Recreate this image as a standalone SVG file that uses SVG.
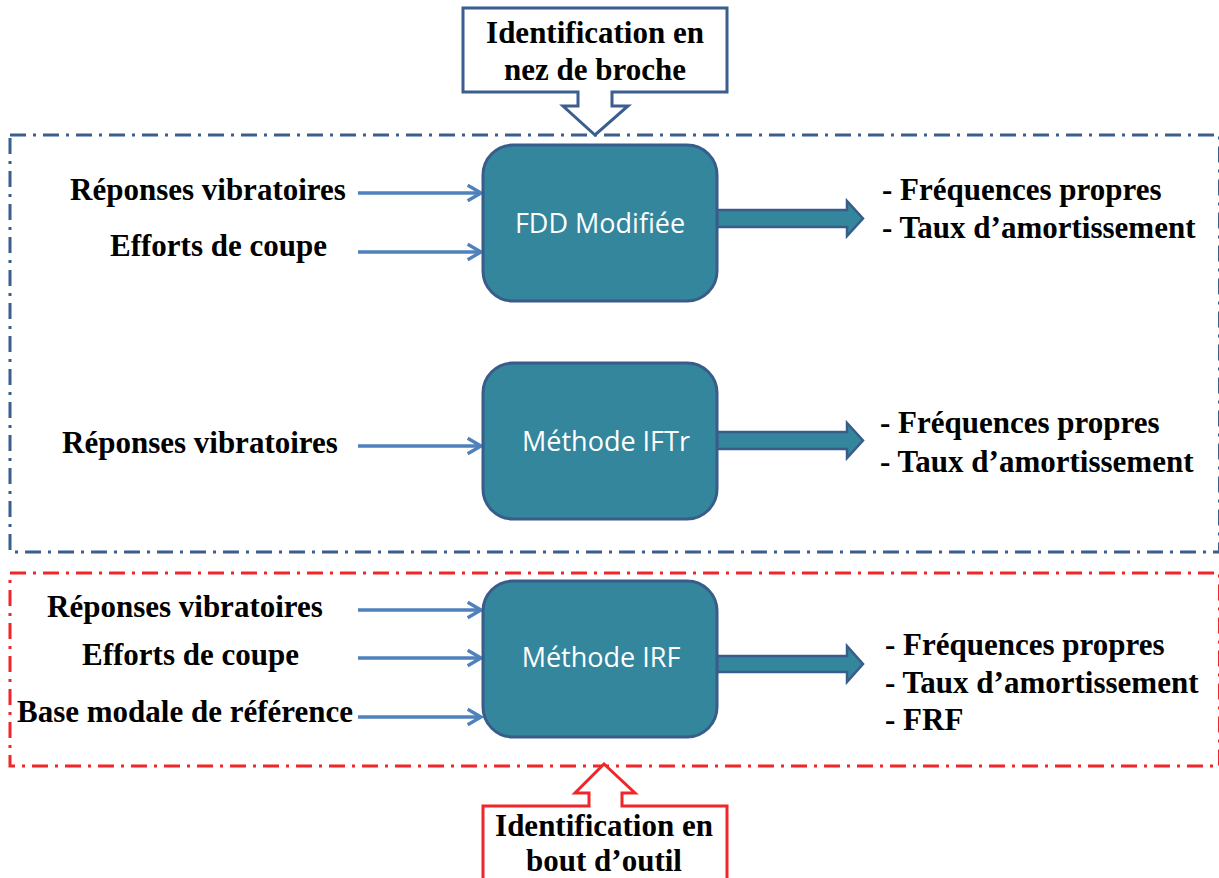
<svg xmlns="http://www.w3.org/2000/svg" width="1219" height="878" viewBox="0 0 1219 878">
<defs>
<style>
.lbl{font-family:"Liberation Serif","Times New Roman",serif;font-weight:bold;font-size:31px;fill:#000}
.box{fill:#33869C;stroke:#385D8A;stroke-width:3}
.btxt{font-family:"Open Sans","Noto Sans",sans-serif;font-size:27px;fill:#fff}
.in{stroke:#4F81BD;stroke-width:3.5;fill:none}
.blk{fill:#33869C;stroke:#385D8A;stroke-width:2.5;stroke-linejoin:miter}
.zoneB{fill:none;stroke:#3A5F8F;stroke-width:3;stroke-dasharray:16 7 3 7}
.zoneR{fill:none;stroke:#F0262A;stroke-width:3;stroke-dasharray:16 7 3 7}
</style>
<marker id="ah" markerUnits="userSpaceOnUse" markerWidth="20" markerHeight="20" viewBox="-14 -9 16 18" refX="0" refY="0" orient="auto">
<path d="M-12,-7 L0,0 L-12,7" fill="none" stroke="#4F81BD" stroke-width="3"/>
</marker>
</defs>
<rect width="1219" height="878" fill="#fff"/>
<g id="zone-broche"><rect class="zoneB" x="10" y="135" width="1209.5" height="417"/></g>
<g id="zone-outil"><rect class="zoneR" x="10" y="573" width="1209.5" height="193"/></g>
<g id="callout-broche">
<path d="M463,8 H727 V92 H612 V106 H628 L595,135 L563,106 H578 V92 H463 Z" fill="#fff" stroke="#3A5F8F" stroke-width="3"/>
<text class="lbl" x="595" y="43" text-anchor="middle">Identification en</text>
<text class="lbl" x="595" y="80" text-anchor="middle">nez de broche</text>
</g>
<g id="callout-outil">
<path d="M604,764 L635,793 H622 V806 H727 V890 H483 V806 H589 V793 H575 Z" fill="#fff" stroke="#F0262A" stroke-width="3"/>
<text class="lbl" x="604" y="836" text-anchor="middle">Identification en</text>
<text class="lbl" x="604" y="871" text-anchor="middle">bout d’outil</text>
</g>
<g id="connectors">
<line class="in" x1="358" y1="193" x2="481" y2="193" marker-end="url(#ah)"/>
<line class="in" x1="358" y1="252" x2="481" y2="252" marker-end="url(#ah)"/>
<line class="in" x1="358" y1="446" x2="481" y2="446" marker-end="url(#ah)"/>
<line class="in" x1="358" y1="610" x2="481" y2="610" marker-end="url(#ah)"/>
<line class="in" x1="358" y1="658" x2="481" y2="658" marker-end="url(#ah)"/>
<line class="in" x1="358" y1="717" x2="481" y2="717" marker-end="url(#ah)"/>
<path class="blk" d="M717,210 H847 V201 L863,218.5 L847,236 V227 H717 Z"/>
<path class="blk" d="M717,432 H847 V423 L863,440.5 L847,458 V449 H717 Z"/>
<path class="blk" d="M717,656 H847 V646 L863,664 L847,682 V672 H717 Z"/>
</g>
<g id="node-fdd">
<rect class="box" x="483" y="145" width="234" height="156" rx="30"/>
<text class="btxt" x="600" y="233" text-anchor="middle">FDD Modifiée</text>
</g>
<g id="node-iftr">
<rect class="box" x="483" y="363" width="234" height="156" rx="30"/>
<text class="btxt" x="606" y="451" text-anchor="middle">Méthode IFTr</text>
</g>
<g id="node-irf">
<rect class="box" x="483" y="581" width="234" height="156" rx="30"/>
<text class="btxt" x="601" y="667" text-anchor="middle">Méthode IRF</text>
</g>
<g id="inputs">
<text class="lbl" x="70" y="200">Réponses vibratoires</text>
<text class="lbl" x="110" y="256">Efforts de coupe</text>
<text class="lbl" x="62" y="453">Réponses vibratoires</text>
<text class="lbl" x="47" y="617">Réponses vibratoires</text>
<text class="lbl" x="82" y="665">Efforts de coupe</text>
<text class="lbl" x="17" y="722">Base modale de référence</text>
</g>
<g id="outputs">
<text class="lbl" x="882" y="200">- Fréquences propres</text>
<text class="lbl" x="882" y="238">- Taux d’amortissement</text>
<text class="lbl" x="880" y="433">- Fréquences propres</text>
<text class="lbl" x="880" y="472">- Taux d’amortissement</text>
<text class="lbl" x="885" y="655">- Fréquences propres</text>
<text class="lbl" x="885" y="693">- Taux d’amortissement</text>
<text class="lbl" x="885" y="730">- FRF</text>
</g>
</svg>
